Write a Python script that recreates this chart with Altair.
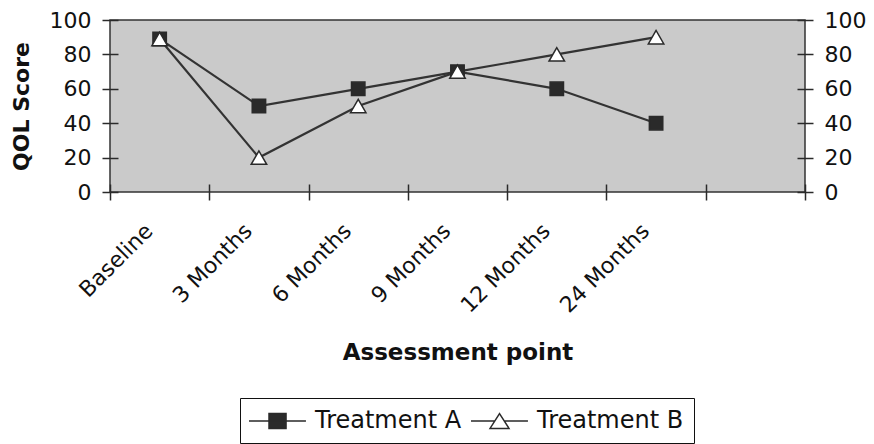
import altair as alt
import pandas as pd

categories = ["Baseline", "3 Months", "6 Months", "9 Months", "12 Months", "24 Months"]
series_names = ["Treatment A", "Treatment B"]
treatment_a = [89, 50, 60, 70, 60, 40]
treatment_b = [89, 20, 50, 70, 80, 90]
y_ticks = [0, 20, 40, 60, 80, 100]

x_domain = categories + [" "]

rows = []
for c, v in zip(categories, treatment_a):
    rows.append({"point": c, "score": v, "series": series_names[0]})
for c, v in zip(categories, treatment_b):
    rows.append({"point": c, "score": v, "series": series_names[1]})
df = pd.DataFrame(rows)

FONT = "DejaVu Sans"
DARK = "#2a2a2a"

x_enc = alt.X(
    "point:N",
    sort=x_domain,
    scale=alt.Scale(type="band", domain=x_domain, paddingInner=0, paddingOuter=0),
    axis=alt.Axis(
        orient="bottom",
        tickBand="extent",
        offset=-8,
        tickSize=16,
        tickWidth=1.5,
        tickColor=DARK,
        domain=False,
        grid=False,
        labelAngle=-45,
        labelAlign="right",
        labelBaseline="middle",
        labelPadding=27,
        labelOffset=-11,
        labelFont=FONT,
        labelFontSize=22,
        labelColor="#111",
        title="Assessment point",
        titleFont=FONT,
        titleFontSize=23,
        titleFontWeight="bold",
        titleColor="#111",
        titleY=175,
        titleBaseline="alphabetic",
    ),
)

y_scale = alt.Scale(domain=[0, 100], nice=False)

def y_axis(orient):
    kw = dict(
        orient=orient,
        values=y_ticks,
        offset=-8,
        tickSize=16,
        tickWidth=1.5,
        tickColor=DARK,
        domain=False,
        grid=False,
        labelFont=FONT,
        labelFontSize=22,
        labelColor="#111",
        labelPadding=11,
    )
    if orient == "left":
        kw.update(
            title="QOL Score",
            titleFont=FONT,
            titleFontSize=22,
            titleFontWeight="bold",
            titleColor="#111",
            titleX=-90,
            titleBaseline="alphabetic",
        )
    else:
        kw.update(title=None)
    return alt.Axis(**kw)

lines = alt.Chart(df).mark_line(color="#333333", strokeWidth=2.2).encode(
    x=x_enc,
    y=alt.Y("score:Q", scale=y_scale, axis=y_axis("left")),
    detail="series:N",
)

points = alt.Chart(df).mark_point(filled=True, stroke=DARK, strokeWidth=1.5, opacity=1).encode(
    x=x_enc,
    y=alt.Y("score:Q", scale=y_scale, axis=y_axis("right")),
    shape=alt.Shape("series:N", scale=alt.Scale(domain=series_names, range=["square", "triangle-up"]), legend=None),
    fill=alt.Fill("series:N", scale=alt.Scale(domain=series_names, range=[DARK, "#ffffff"]), legend=None),
    size=alt.Size("series:N", scale=alt.Scale(domain=series_names, range=[180, 240]), legend=None),
)

path_a = "M-1.17,0H3.58M0.5,-0.62H1.92V0.62H0.5Z"
path_b = "M-1.17,0H0.8M1.62,0H3.58M1.21,-0.62L2.0,0.62L0.42,0.62Z"

legend = alt.Legend(
    orient="none",
    legendX=130,
    legendY=378,
    direction="horizontal",
    title=None,
    strokeColor="#111",
    padding=10,
    labelFont=FONT,
    labelFontSize=24,
    labelColor="#111",
    labelLimit=300,
    labelOffset=39,
    columnPadding=5,
    symbolSize=576,
    symbolStrokeWidth=1.5,
    symbolStrokeColor=DARK,
)

legend_layer = alt.Chart(df).mark_point(filled=True, strokeWidth=1.5, clip=True, opacity=1).encode(
    x=x_enc,
    y=alt.value(-300),
    shape=alt.Shape("series:N", scale=alt.Scale(domain=series_names, range=[path_a, path_b]), legend=legend),
    fill=alt.Fill("series:N", scale=alt.Scale(domain=series_names, range=[DARK, "#ffffff"]), legend=legend),
    stroke=alt.Stroke("series:N", scale=alt.Scale(domain=series_names, range=[DARK, DARK]), legend=legend),
)

chart = (
    alt.layer(lines, points, legend_layer)
    .resolve_scale(y="independent", shape="independent", fill="independent", size="independent", stroke="independent")
    .properties(
        width=695,
        height=172,
        autosize=alt.AutoSizeParams(type="none"),
        padding={"left": 102, "top": 12, "right": 61, "bottom": 256},
        background="white",
    )
    .configure_view(fill="#cacaca", stroke="#333333", strokeWidth=1.5)
)

chart.save("out.html", embed_options={"renderer": "svg", "actions": False})
